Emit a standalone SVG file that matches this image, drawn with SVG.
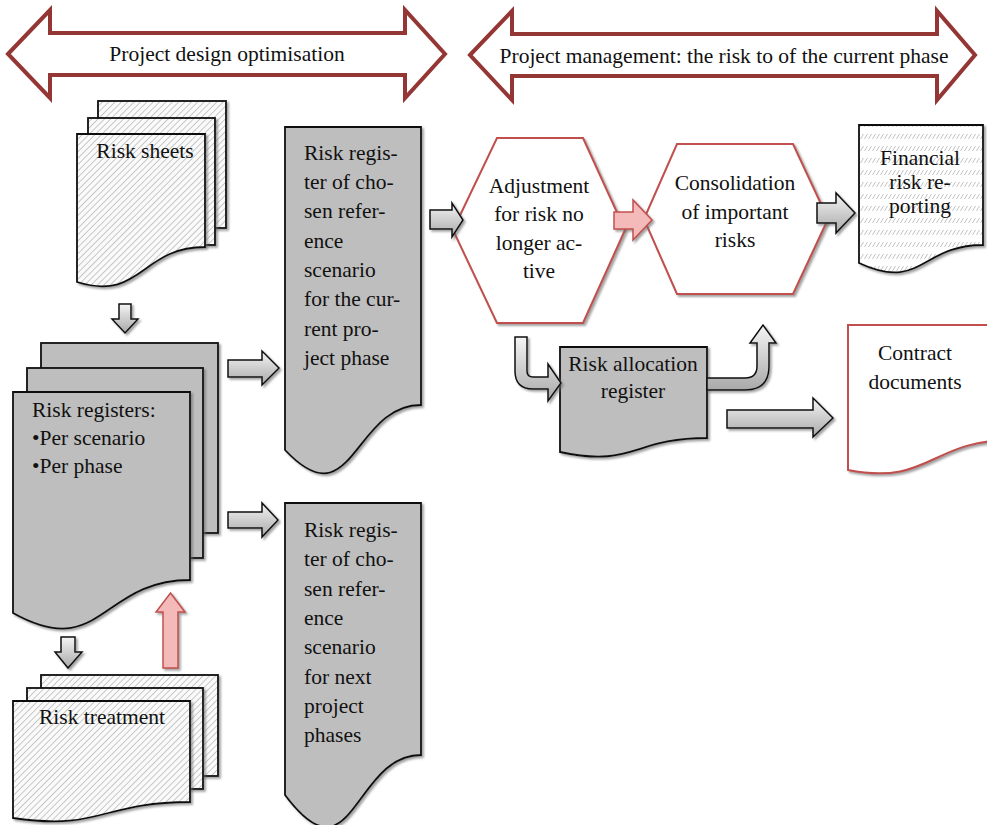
<svg xmlns="http://www.w3.org/2000/svg" width="987" height="825" viewBox="0 0 987 825">
<defs>
  <pattern id="hatch" patternUnits="userSpaceOnUse" width="4.5" height="4.5" patternTransform="rotate(45)">
    <rect width="4.5" height="4.5" fill="#fafafa"/>
    <line x1="0" y1="0" x2="0" y2="4.5" stroke="#a8a8a8" stroke-width="1.2"/>
  </pattern>
  <pattern id="dash" patternUnits="userSpaceOnUse" width="4" height="12">
    <rect width="4" height="12" fill="#ffffff"/>
    <line x1="0.5" y1="7" x2="3.5" y2="2" stroke="#c4c4c4" stroke-width="1"/>
  </pattern>
  <linearGradient id="agrad" x1="0" y1="0" x2="0" y2="1">
    <stop offset="0" stop-color="#f4f4f4"/>
    <stop offset="1" stop-color="#a9a9a9"/>
  </linearGradient>
  <linearGradient id="agradh" x1="0" y1="0" x2="1" y2="0">
    <stop offset="0" stop-color="#f4f4f4"/>
    <stop offset="1" stop-color="#a9a9a9"/>
  </linearGradient>
  <filter id="sh" x="-10%" y="-10%" width="130%" height="130%">
    <feDropShadow dx="2" dy="2" stdDeviation="1" flood-color="#666" flood-opacity="0.6"/>
  </filter>
</defs>
<style>
  text { font-family: "Liberation Serif", "Times New Roman", serif; font-size: 21.5px; fill: #111; }
  .c { text-anchor: middle; }
  .band { fill: #ffffff; stroke: #943634; stroke-width: 4; stroke-linejoin: miter; }
  .hat { fill: url(#hatch); stroke: #111; stroke-width: 1.8; filter: url(#sh); }
  .gry { fill: #bebebe; stroke: #111; stroke-width: 1.8; filter: url(#sh); }
  .hex { fill: #ffffff; stroke: #c0504d; stroke-width: 2; filter: url(#sh); }
  .red { fill: #ffffff; stroke: #c0504d; stroke-width: 2; filter: url(#sh); }
  .fin { fill: url(#dash); stroke: #111; stroke-width: 1.8; filter: url(#sh); }
  .arr { fill: url(#agrad); stroke: #111; stroke-width: 1.5; stroke-linejoin: miter; filter: url(#sh); }
  .arrh { fill: url(#agradh); stroke: #111; stroke-width: 1.5; stroke-linejoin: miter; filter: url(#sh); }
  .arrr { fill: #f4b9b9; stroke: #c0504d; stroke-width: 1.5; filter: url(#sh); }
</style>

<g id="band-design">
  <polygon class="band" points="8,54 50,10 50,33 405,33 405,10 445,54 405,98 405,75 50,75 50,98"/>
  <text class="c" x="227" y="61">Project design optimisation</text>
</g>
<g id="band-management">
  <polygon class="band" points="470,55 512,11 512,34 937,34 937,11 975,55 937,100 937,76 512,76 512,100"/>
  <text class="c" x="724" y="63">Project management: the risk to of the current phase</text>
</g>

<g id="risk-sheets">
  <rect class="hat" x="98" y="101" width="128" height="127"/>
  <rect class="hat" x="88" y="118" width="127" height="127"/>
  <path class="hat" d="M77,134 H205 V247 C141,247 141,302 77,282 Z"/>
  <text class="c" x="145" y="158">Risk sheets</text>
</g>

<g id="risk-registers">
  <rect class="gry" x="41" y="343" width="177" height="190"/>
  <rect class="gry" x="27" y="368" width="176" height="190"/>
  <path class="gry" d="M13,392 H190 V580 C101,580 101,662 13,613 Z"/>
  <text x="32" y="417">Risk registers:</text>
  <text x="32" y="445">•Per scenario</text>
  <text x="32" y="473">•Per phase</text>
</g>

<g id="risk-treatment">
  <rect class="hat" x="41" y="675" width="177" height="101"/>
  <rect class="hat" x="27" y="688" width="176" height="101"/>
  <path class="hat" d="M13,701 H190 V802 C101,802 101,831 13,818 Z"/>
  <text class="c" x="102" y="724">Risk treatment</text>
</g>

<g id="register-current">
  <path class="gry" d="M285,127 H421 V405 C353,405 353,522 285,450 Z"/>
  <text x="304" y="160">Risk regis-</text>
  <text x="304" y="189">ter of cho-</text>
  <text x="304" y="218">sen refer-</text>
  <text x="304" y="248">ence</text>
  <text x="304" y="277">scenario</text>
  <text x="304" y="306">for the cur-</text>
  <text x="304" y="336">rent pro-</text>
  <text x="304" y="365">ject phase</text>
</g>

<g id="register-next">
  <path class="gry" d="M285,503 H421 V755 C353,755 353,886 285,795 Z"/>
  <text x="304" y="537">Risk regis-</text>
  <text x="304" y="566">ter of cho-</text>
  <text x="304" y="596">sen refer-</text>
  <text x="304" y="625">ence</text>
  <text x="304" y="654">scenario</text>
  <text x="304" y="684">for next</text>
  <text x="304" y="713">project</text>
  <text x="304" y="742">phases</text>
</g>

<g id="adjustment">
  <polygon class="hex" points="453,230 497,138 583,138 625,230 583,323 497,323"/>
  <text class="c" x="539" y="193">Adjustment</text>
  <text class="c" x="539" y="221">for risk no</text>
  <text class="c" x="539" y="250">longer ac-</text>
  <text class="c" x="539" y="278">tive</text>
</g>

<g id="consolidation">
  <polygon class="hex" points="644,219 677,144 793,144 828,219 793,294 677,294"/>
  <text class="c" x="735" y="190">Consolidation</text>
  <text class="c" x="735" y="219">of important</text>
  <text class="c" x="735" y="247">risks</text>
</g>

<g id="financial-reporting">
  <path class="fin" d="M859,125 H983 V245 C921,245 921,292 859,263 Z"/>
  <text class="c" x="920" y="165">Financial</text>
  <text class="c" x="920" y="189">risk re-</text>
  <text class="c" x="920" y="213">porting</text>
</g>

<g id="risk-allocation">
  <path class="gry" d="M560,347 H707 V438 C633,438 633,468 560,452 Z"/>
  <text class="c" x="633" y="371">Risk allocation</text>
  <text class="c" x="633" y="398">register</text>
</g>

<g id="contract-documents">
  <path class="red" d="M848,325 H1012 V440 C930,440 930,486 848,470 Z"/>
  <text class="c" x="915" y="360">Contract</text>
  <text class="c" x="915" y="389">documents</text>
</g>

<g id="connectors">
  <polygon class="arr" points="119,304 131,304 131,319 138,319 125,333 112,319 119,319"/>
  <polygon class="arr" points="61,637 75,637 75,652 82,652 68,668 55,652 61,652"/>
  <polygon class="arrr" points="163,668 178,668 178,612 185,612 170.5,593 156,612 163,612"/>
  <polygon class="arr" points="228,360 262,360 262,351 279,368 262,385 262,377 228,377"/>
  <polygon class="arr" points="228,512 262,512 262,503 278,520 262,537 262,528 228,528"/>
  <polygon class="arr" points="430,210 452,210 452,203 463,220 452,237 452,229 430,229"/>
  <polygon class="arrr" points="614,212 633,212 633,200 652,220 633,240 633,229 614,229"/>
  <polygon class="arr" points="817,203 836,203 836,193 855,213 836,233 836,223 817,223"/>
  <path class="arr" d="M515,337 L527,337 L527,371 Q527,377 533,377 L548,377 L548,364 L561,383 L548,401 L548,389 L533,389 Q515,389 515,371 Z"/>
  <path class="arr" d="M707,378 L745,378 Q757,378 757,366 L757,343 L750,343 L763,325 L776,343 L769,343 L769,366 Q769,390 745,390 L707,390 Z"/>
  <polygon class="arr" points="727,410 813,410 813,398 833,418 813,437 813,428 727,428"/>
</g>
</svg>
